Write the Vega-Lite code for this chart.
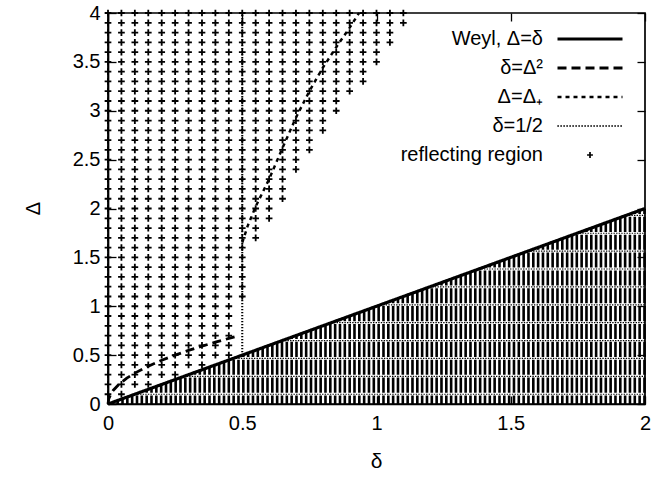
{
  "$schema": "https://vega.github.io/schema/vega-lite/v6.json",
  "width": 537,
  "height": 391,
  "autosize": {"type": "none"},
  "padding": {"left": 108, "top": 13, "right": 13, "bottom": 74},
  "background": "white",
  "config": {
    "view": {"stroke": "black", "strokeWidth": 1.7},
    "font": "Liberation Sans",
    "axis": {
      "labelFont": "Liberation Sans",
      "labelFontSize": 20,
      "labelColor": "black",
      "titleFont": "Liberation Sans",
      "titleColor": "black",
      "titleFontWeight": "normal",
      "tickColor": "black",
      "domainColor": "black",
      "grid": false,
      "labelFlush": false,
      "labelOverlap": false
    }
  },
  "datasets": {
    "below": [
      {"d":0.018,"b":0},{"d":0.036,"b":0},{"d":0.054,"b":0},{"d":0.072,"b":0},{"d":0.09,"b":0},{"d":0.108,"b":0},{"d":0.126,"b":0},{"d":0.144,"b":0},{"d":0.162,"b":0},{"d":0.18,"b":0},
      {"d":0.198,"b":0},{"d":0.216,"b":0},{"d":0.234,"b":0},{"d":0.252,"b":0},{"d":0.27,"b":0},{"d":0.288,"b":0},{"d":0.306,"b":0},{"d":0.324,"b":0},{"d":0.342,"b":0},{"d":0.36,"b":0},
      {"d":0.378,"b":0},{"d":0.396,"b":0},{"d":0.414,"b":0},{"d":0.432,"b":0},{"d":0.45,"b":0},{"d":0.468,"b":0},{"d":0.486,"b":0},{"d":0.504,"b":0},{"d":0.522,"b":0},{"d":0.54,"b":0},
      {"d":0.558,"b":0},{"d":0.576,"b":0},{"d":0.594,"b":0},{"d":0.612,"b":0},{"d":0.63,"b":0},{"d":0.648,"b":0},{"d":0.666,"b":0},{"d":0.684,"b":0},{"d":0.702,"b":0},{"d":0.72,"b":0},
      {"d":0.738,"b":0},{"d":0.756,"b":0},{"d":0.774,"b":0},{"d":0.792,"b":0},{"d":0.81,"b":0},{"d":0.828,"b":0},{"d":0.846,"b":0},{"d":0.864,"b":0},{"d":0.882,"b":0},{"d":0.9,"b":0},
      {"d":0.918,"b":0},{"d":0.936,"b":0},{"d":0.954,"b":0},{"d":0.972,"b":0},{"d":0.99,"b":0},{"d":1.008,"b":0},{"d":1.026,"b":0},{"d":1.044,"b":0},{"d":1.062,"b":0},{"d":1.08,"b":0},
      {"d":1.098,"b":0},{"d":1.116,"b":0},{"d":1.134,"b":0},{"d":1.152,"b":0},{"d":1.17,"b":0},{"d":1.188,"b":0},{"d":1.206,"b":0},{"d":1.224,"b":0},{"d":1.242,"b":0},{"d":1.26,"b":0},
      {"d":1.278,"b":0},{"d":1.296,"b":0},{"d":1.314,"b":0},{"d":1.332,"b":0},{"d":1.35,"b":0},{"d":1.368,"b":0},{"d":1.386,"b":0},{"d":1.404,"b":0},{"d":1.422,"b":0},{"d":1.44,"b":0},
      {"d":1.458,"b":0},{"d":1.476,"b":0},{"d":1.494,"b":0},{"d":1.512,"b":0},{"d":1.53,"b":0},{"d":1.548,"b":0},{"d":1.566,"b":0},{"d":1.584,"b":0},{"d":1.602,"b":0},{"d":1.62,"b":0},
      {"d":1.638,"b":0},{"d":1.656,"b":0},{"d":1.674,"b":0},{"d":1.692,"b":0},{"d":1.71,"b":0},{"d":1.728,"b":0},{"d":1.746,"b":0},{"d":1.764,"b":0},{"d":1.782,"b":0},{"d":1.8,"b":0},
      {"d":1.818,"b":0},{"d":1.836,"b":0},{"d":1.854,"b":0},{"d":1.872,"b":0},{"d":1.89,"b":0},{"d":1.908,"b":0},{"d":1.926,"b":0},{"d":1.944,"b":0},{"d":1.962,"b":0},{"d":1.98,"b":0},
      {"d":1.998,"b":0}
    ],
    "levels": [
      {"D":0.1,"e":2},{"D":0.283,"e":2},{"D":0.466,"e":2},{"D":0.649,"e":2},{"D":0.832,"e":2},{"D":1.015,"e":2},{"D":1.198,"e":2},{"D":1.381,"e":2},{"D":1.564,"e":2},{"D":1.747,"e":2},{"D":1.93,"e":2}
    ],
    "reflecting": [
      {"d":0,"D":0.1},{"d":0,"D":0.2},{"d":0,"D":0.3},{"d":0,"D":0.4},{"d":0,"D":0.5},{"d":0,"D":0.6},{"d":0,"D":0.7},{"d":0,"D":0.8},{"d":0,"D":0.9},{"d":0,"D":1},
      {"d":0,"D":1.1},{"d":0,"D":1.2},{"d":0,"D":1.3},{"d":0,"D":1.4},{"d":0,"D":1.5},{"d":0,"D":1.6},{"d":0,"D":1.7},{"d":0,"D":1.8},{"d":0,"D":1.9},{"d":0,"D":2},
      {"d":0,"D":2.1},{"d":0,"D":2.2},{"d":0,"D":2.3},{"d":0,"D":2.4},{"d":0,"D":2.5},{"d":0,"D":2.6},{"d":0,"D":2.7},{"d":0,"D":2.8},{"d":0,"D":2.9},{"d":0,"D":3},
      {"d":0,"D":3.1},{"d":0,"D":3.2},{"d":0,"D":3.3},{"d":0,"D":3.4},{"d":0,"D":3.5},{"d":0,"D":3.6},{"d":0,"D":3.7},{"d":0,"D":3.8},{"d":0,"D":3.9},{"d":0,"D":4},
      {"d":0.05,"D":0.1},{"d":0.05,"D":0.2},{"d":0.05,"D":0.3},{"d":0.05,"D":0.4},{"d":0.05,"D":0.5},{"d":0.05,"D":0.6},{"d":0.05,"D":0.7},{"d":0.05,"D":0.8},{"d":0.05,"D":0.9},{"d":0.05,"D":1},
      {"d":0.05,"D":1.1},{"d":0.05,"D":1.2},{"d":0.05,"D":1.3},{"d":0.05,"D":1.4},{"d":0.05,"D":1.5},{"d":0.05,"D":1.6},{"d":0.05,"D":1.7},{"d":0.05,"D":1.8},{"d":0.05,"D":1.9},{"d":0.05,"D":2},
      {"d":0.05,"D":2.1},{"d":0.05,"D":2.2},{"d":0.05,"D":2.3},{"d":0.05,"D":2.4},{"d":0.05,"D":2.5},{"d":0.05,"D":2.6},{"d":0.05,"D":2.7},{"d":0.05,"D":2.8},{"d":0.05,"D":2.9},{"d":0.05,"D":3},
      {"d":0.05,"D":3.1},{"d":0.05,"D":3.2},{"d":0.05,"D":3.3},{"d":0.05,"D":3.4},{"d":0.05,"D":3.5},{"d":0.05,"D":3.6},{"d":0.05,"D":3.7},{"d":0.05,"D":3.8},{"d":0.05,"D":3.9},{"d":0.05,"D":4},
      {"d":0.1,"D":0.2},{"d":0.1,"D":0.3},{"d":0.1,"D":0.4},{"d":0.1,"D":0.5},{"d":0.1,"D":0.6},{"d":0.1,"D":0.7},{"d":0.1,"D":0.8},{"d":0.1,"D":0.9},{"d":0.1,"D":1},
      {"d":0.1,"D":1.1},{"d":0.1,"D":1.2},{"d":0.1,"D":1.3},{"d":0.1,"D":1.4},{"d":0.1,"D":1.5},{"d":0.1,"D":1.6},{"d":0.1,"D":1.7},{"d":0.1,"D":1.8},{"d":0.1,"D":1.9},{"d":0.1,"D":2},
      {"d":0.1,"D":2.1},{"d":0.1,"D":2.2},{"d":0.1,"D":2.3},{"d":0.1,"D":2.4},{"d":0.1,"D":2.5},{"d":0.1,"D":2.6},{"d":0.1,"D":2.7},{"d":0.1,"D":2.8},{"d":0.1,"D":2.9},{"d":0.1,"D":3},
      {"d":0.1,"D":3.1},{"d":0.1,"D":3.2},{"d":0.1,"D":3.3},{"d":0.1,"D":3.4},{"d":0.1,"D":3.5},{"d":0.1,"D":3.6},{"d":0.1,"D":3.7},{"d":0.1,"D":3.8},{"d":0.1,"D":3.9},{"d":0.1,"D":4},
      {"d":0.15,"D":0.2},{"d":0.15,"D":0.3},{"d":0.15,"D":0.4},{"d":0.15,"D":0.5},{"d":0.15,"D":0.6},{"d":0.15,"D":0.7},{"d":0.15,"D":0.8},{"d":0.15,"D":0.9},{"d":0.15,"D":1},
      {"d":0.15,"D":1.1},{"d":0.15,"D":1.2},{"d":0.15,"D":1.3},{"d":0.15,"D":1.4},{"d":0.15,"D":1.5},{"d":0.15,"D":1.6},{"d":0.15,"D":1.7},{"d":0.15,"D":1.8},{"d":0.15,"D":1.9},{"d":0.15,"D":2},
      {"d":0.15,"D":2.1},{"d":0.15,"D":2.2},{"d":0.15,"D":2.3},{"d":0.15,"D":2.4},{"d":0.15,"D":2.5},{"d":0.15,"D":2.6},{"d":0.15,"D":2.7},{"d":0.15,"D":2.8},{"d":0.15,"D":2.9},{"d":0.15,"D":3},
      {"d":0.15,"D":3.1},{"d":0.15,"D":3.2},{"d":0.15,"D":3.3},{"d":0.15,"D":3.4},{"d":0.15,"D":3.5},{"d":0.15,"D":3.6},{"d":0.15,"D":3.7},{"d":0.15,"D":3.8},{"d":0.15,"D":3.9},{"d":0.15,"D":4},
      {"d":0.2,"D":0.3},{"d":0.2,"D":0.4},{"d":0.2,"D":0.5},{"d":0.2,"D":0.6},{"d":0.2,"D":0.7},{"d":0.2,"D":0.8},{"d":0.2,"D":0.9},{"d":0.2,"D":1},
      {"d":0.2,"D":1.1},{"d":0.2,"D":1.2},{"d":0.2,"D":1.3},{"d":0.2,"D":1.4},{"d":0.2,"D":1.5},{"d":0.2,"D":1.6},{"d":0.2,"D":1.7},{"d":0.2,"D":1.8},{"d":0.2,"D":1.9},{"d":0.2,"D":2},
      {"d":0.2,"D":2.1},{"d":0.2,"D":2.2},{"d":0.2,"D":2.3},{"d":0.2,"D":2.4},{"d":0.2,"D":2.5},{"d":0.2,"D":2.6},{"d":0.2,"D":2.7},{"d":0.2,"D":2.8},{"d":0.2,"D":2.9},{"d":0.2,"D":3},
      {"d":0.2,"D":3.1},{"d":0.2,"D":3.2},{"d":0.2,"D":3.3},{"d":0.2,"D":3.4},{"d":0.2,"D":3.5},{"d":0.2,"D":3.6},{"d":0.2,"D":3.7},{"d":0.2,"D":3.8},{"d":0.2,"D":3.9},{"d":0.2,"D":4},
      {"d":0.25,"D":0.3},{"d":0.25,"D":0.4},{"d":0.25,"D":0.5},{"d":0.25,"D":0.6},{"d":0.25,"D":0.7},{"d":0.25,"D":0.8},{"d":0.25,"D":0.9},{"d":0.25,"D":1},
      {"d":0.25,"D":1.1},{"d":0.25,"D":1.2},{"d":0.25,"D":1.3},{"d":0.25,"D":1.4},{"d":0.25,"D":1.5},{"d":0.25,"D":1.6},{"d":0.25,"D":1.7},{"d":0.25,"D":1.8},{"d":0.25,"D":1.9},{"d":0.25,"D":2},
      {"d":0.25,"D":2.1},{"d":0.25,"D":2.2},{"d":0.25,"D":2.3},{"d":0.25,"D":2.4},{"d":0.25,"D":2.5},{"d":0.25,"D":2.6},{"d":0.25,"D":2.7},{"d":0.25,"D":2.8},{"d":0.25,"D":2.9},{"d":0.25,"D":3},
      {"d":0.25,"D":3.1},{"d":0.25,"D":3.2},{"d":0.25,"D":3.3},{"d":0.25,"D":3.4},{"d":0.25,"D":3.5},{"d":0.25,"D":3.6},{"d":0.25,"D":3.7},{"d":0.25,"D":3.8},{"d":0.25,"D":3.9},{"d":0.25,"D":4},
      {"d":0.3,"D":0.4},{"d":0.3,"D":0.5},{"d":0.3,"D":0.6},{"d":0.3,"D":0.7},{"d":0.3,"D":0.8},{"d":0.3,"D":0.9},{"d":0.3,"D":1},
      {"d":0.3,"D":1.1},{"d":0.3,"D":1.2},{"d":0.3,"D":1.3},{"d":0.3,"D":1.4},{"d":0.3,"D":1.5},{"d":0.3,"D":1.6},{"d":0.3,"D":1.7},{"d":0.3,"D":1.8},{"d":0.3,"D":1.9},{"d":0.3,"D":2},
      {"d":0.3,"D":2.1},{"d":0.3,"D":2.2},{"d":0.3,"D":2.3},{"d":0.3,"D":2.4},{"d":0.3,"D":2.5},{"d":0.3,"D":2.6},{"d":0.3,"D":2.7},{"d":0.3,"D":2.8},{"d":0.3,"D":2.9},{"d":0.3,"D":3},
      {"d":0.3,"D":3.1},{"d":0.3,"D":3.2},{"d":0.3,"D":3.3},{"d":0.3,"D":3.4},{"d":0.3,"D":3.5},{"d":0.3,"D":3.6},{"d":0.3,"D":3.7},{"d":0.3,"D":3.8},{"d":0.3,"D":3.9},{"d":0.3,"D":4},
      {"d":0.35,"D":0.4},{"d":0.35,"D":0.5},{"d":0.35,"D":0.6},{"d":0.35,"D":0.7},{"d":0.35,"D":0.8},{"d":0.35,"D":0.9},{"d":0.35,"D":1},
      {"d":0.35,"D":1.1},{"d":0.35,"D":1.2},{"d":0.35,"D":1.3},{"d":0.35,"D":1.4},{"d":0.35,"D":1.5},{"d":0.35,"D":1.6},{"d":0.35,"D":1.7},{"d":0.35,"D":1.8},{"d":0.35,"D":1.9},{"d":0.35,"D":2},
      {"d":0.35,"D":2.1},{"d":0.35,"D":2.2},{"d":0.35,"D":2.3},{"d":0.35,"D":2.4},{"d":0.35,"D":2.5},{"d":0.35,"D":2.6},{"d":0.35,"D":2.7},{"d":0.35,"D":2.8},{"d":0.35,"D":2.9},{"d":0.35,"D":3},
      {"d":0.35,"D":3.1},{"d":0.35,"D":3.2},{"d":0.35,"D":3.3},{"d":0.35,"D":3.4},{"d":0.35,"D":3.5},{"d":0.35,"D":3.6},{"d":0.35,"D":3.7},{"d":0.35,"D":3.8},{"d":0.35,"D":3.9},{"d":0.35,"D":4},
      {"d":0.4,"D":0.5},{"d":0.4,"D":0.6},{"d":0.4,"D":0.7},{"d":0.4,"D":0.8},{"d":0.4,"D":0.9},{"d":0.4,"D":1},
      {"d":0.4,"D":1.1},{"d":0.4,"D":1.2},{"d":0.4,"D":1.3},{"d":0.4,"D":1.4},{"d":0.4,"D":1.5},{"d":0.4,"D":1.6},{"d":0.4,"D":1.7},{"d":0.4,"D":1.8},{"d":0.4,"D":1.9},{"d":0.4,"D":2},
      {"d":0.4,"D":2.1},{"d":0.4,"D":2.2},{"d":0.4,"D":2.3},{"d":0.4,"D":2.4},{"d":0.4,"D":2.5},{"d":0.4,"D":2.6},{"d":0.4,"D":2.7},{"d":0.4,"D":2.8},{"d":0.4,"D":2.9},{"d":0.4,"D":3},
      {"d":0.4,"D":3.1},{"d":0.4,"D":3.2},{"d":0.4,"D":3.3},{"d":0.4,"D":3.4},{"d":0.4,"D":3.5},{"d":0.4,"D":3.6},{"d":0.4,"D":3.7},{"d":0.4,"D":3.8},{"d":0.4,"D":3.9},{"d":0.4,"D":4},
      {"d":0.45,"D":0.5},{"d":0.45,"D":0.6},{"d":0.45,"D":0.7},{"d":0.45,"D":0.8},{"d":0.45,"D":0.9},{"d":0.45,"D":1},
      {"d":0.45,"D":1.1},{"d":0.45,"D":1.2},{"d":0.45,"D":1.3},{"d":0.45,"D":1.4},{"d":0.45,"D":1.5},{"d":0.45,"D":1.6},{"d":0.45,"D":1.7},{"d":0.45,"D":1.8},{"d":0.45,"D":1.9},{"d":0.45,"D":2},
      {"d":0.45,"D":2.1},{"d":0.45,"D":2.2},{"d":0.45,"D":2.3},{"d":0.45,"D":2.4},{"d":0.45,"D":2.5},{"d":0.45,"D":2.6},{"d":0.45,"D":2.7},{"d":0.45,"D":2.8},{"d":0.45,"D":2.9},{"d":0.45,"D":3},
      {"d":0.45,"D":3.1},{"d":0.45,"D":3.2},{"d":0.45,"D":3.3},{"d":0.45,"D":3.4},{"d":0.45,"D":3.5},{"d":0.45,"D":3.6},{"d":0.45,"D":3.7},{"d":0.45,"D":3.8},{"d":0.45,"D":3.9},{"d":0.45,"D":4},
      {"d":0.5,"D":1.1},{"d":0.5,"D":1.2},{"d":0.5,"D":1.3},{"d":0.5,"D":1.4},{"d":0.5,"D":1.5},{"d":0.5,"D":1.6},{"d":0.5,"D":1.7},{"d":0.5,"D":1.8},{"d":0.5,"D":1.9},{"d":0.5,"D":2},
      {"d":0.5,"D":2.1},{"d":0.5,"D":2.2},{"d":0.5,"D":2.3},{"d":0.5,"D":2.4},{"d":0.5,"D":2.5},{"d":0.5,"D":2.6},{"d":0.5,"D":2.7},{"d":0.5,"D":2.8},{"d":0.5,"D":2.9},{"d":0.5,"D":3},
      {"d":0.5,"D":3.1},{"d":0.5,"D":3.2},{"d":0.5,"D":3.3},{"d":0.5,"D":3.4},{"d":0.5,"D":3.5},{"d":0.5,"D":3.6},{"d":0.5,"D":3.7},{"d":0.5,"D":3.8},{"d":0.5,"D":3.9},{"d":0.5,"D":4},
      {"d":0.55,"D":1.7},{"d":0.55,"D":1.8},{"d":0.55,"D":1.9},{"d":0.55,"D":2},
      {"d":0.55,"D":2.1},{"d":0.55,"D":2.2},{"d":0.55,"D":2.3},{"d":0.55,"D":2.4},{"d":0.55,"D":2.5},{"d":0.55,"D":2.6},{"d":0.55,"D":2.7},{"d":0.55,"D":2.8},{"d":0.55,"D":2.9},{"d":0.55,"D":3},
      {"d":0.55,"D":3.1},{"d":0.55,"D":3.2},{"d":0.55,"D":3.3},{"d":0.55,"D":3.4},{"d":0.55,"D":3.5},{"d":0.55,"D":3.6},{"d":0.55,"D":3.7},{"d":0.55,"D":3.8},{"d":0.55,"D":3.9},{"d":0.55,"D":4},
      {"d":0.6,"D":1.9},{"d":0.6,"D":2},
      {"d":0.6,"D":2.1},{"d":0.6,"D":2.2},{"d":0.6,"D":2.3},{"d":0.6,"D":2.4},{"d":0.6,"D":2.5},{"d":0.6,"D":2.6},{"d":0.6,"D":2.7},{"d":0.6,"D":2.8},{"d":0.6,"D":2.9},{"d":0.6,"D":3},
      {"d":0.6,"D":3.1},{"d":0.6,"D":3.2},{"d":0.6,"D":3.3},{"d":0.6,"D":3.4},{"d":0.6,"D":3.5},{"d":0.6,"D":3.6},{"d":0.6,"D":3.7},{"d":0.6,"D":3.8},{"d":0.6,"D":3.9},{"d":0.6,"D":4},
      {"d":0.65,"D":2.1},{"d":0.65,"D":2.2},{"d":0.65,"D":2.3},{"d":0.65,"D":2.4},{"d":0.65,"D":2.5},{"d":0.65,"D":2.6},{"d":0.65,"D":2.7},{"d":0.65,"D":2.8},{"d":0.65,"D":2.9},{"d":0.65,"D":3},
      {"d":0.65,"D":3.1},{"d":0.65,"D":3.2},{"d":0.65,"D":3.3},{"d":0.65,"D":3.4},{"d":0.65,"D":3.5},{"d":0.65,"D":3.6},{"d":0.65,"D":3.7},{"d":0.65,"D":3.8},{"d":0.65,"D":3.9},{"d":0.65,"D":4},
      {"d":0.7,"D":2.4},{"d":0.7,"D":2.5},{"d":0.7,"D":2.6},{"d":0.7,"D":2.7},{"d":0.7,"D":2.8},{"d":0.7,"D":2.9},{"d":0.7,"D":3},
      {"d":0.7,"D":3.1},{"d":0.7,"D":3.2},{"d":0.7,"D":3.3},{"d":0.7,"D":3.4},{"d":0.7,"D":3.5},{"d":0.7,"D":3.6},{"d":0.7,"D":3.7},{"d":0.7,"D":3.8},{"d":0.7,"D":3.9},{"d":0.7,"D":4},
      {"d":0.75,"D":2.6},{"d":0.75,"D":2.7},{"d":0.75,"D":2.8},{"d":0.75,"D":2.9},{"d":0.75,"D":3},
      {"d":0.75,"D":3.1},{"d":0.75,"D":3.2},{"d":0.75,"D":3.3},{"d":0.75,"D":3.4},{"d":0.75,"D":3.5},{"d":0.75,"D":3.6},{"d":0.75,"D":3.7},{"d":0.75,"D":3.8},{"d":0.75,"D":3.9},{"d":0.75,"D":4},
      {"d":0.8,"D":2.8},{"d":0.8,"D":2.9},{"d":0.8,"D":3},
      {"d":0.8,"D":3.1},{"d":0.8,"D":3.2},{"d":0.8,"D":3.3},{"d":0.8,"D":3.4},{"d":0.8,"D":3.5},{"d":0.8,"D":3.6},{"d":0.8,"D":3.7},{"d":0.8,"D":3.8},{"d":0.8,"D":3.9},{"d":0.8,"D":4},
      {"d":0.85,"D":3},
      {"d":0.85,"D":3.1},{"d":0.85,"D":3.2},{"d":0.85,"D":3.3},{"d":0.85,"D":3.4},{"d":0.85,"D":3.5},{"d":0.85,"D":3.6},{"d":0.85,"D":3.7},{"d":0.85,"D":3.8},{"d":0.85,"D":3.9},{"d":0.85,"D":4},
      {"d":0.9,"D":3.2},{"d":0.9,"D":3.3},{"d":0.9,"D":3.4},{"d":0.9,"D":3.5},{"d":0.9,"D":3.6},{"d":0.9,"D":3.7},{"d":0.9,"D":3.8},{"d":0.9,"D":3.9},{"d":0.9,"D":4},
      {"d":0.95,"D":3.3},{"d":0.95,"D":3.4},{"d":0.95,"D":3.5},{"d":0.95,"D":3.6},{"d":0.95,"D":3.7},{"d":0.95,"D":3.8},{"d":0.95,"D":3.9},{"d":0.95,"D":4},
      {"d":1,"D":3.5},{"d":1,"D":3.6},{"d":1,"D":3.7},{"d":1,"D":3.8},{"d":1,"D":3.9},{"d":1,"D":4},
      {"d":1.05,"D":3.7},{"d":1.05,"D":3.8},{"d":1.05,"D":3.9},{"d":1.05,"D":4},
      {"d":1.1,"D":3.9},{"d":1.1,"D":4}
    ],
    "curves": [
      {"s":"Weyl, Δ=δ","d":0,"D":0},{"s":"Weyl, Δ=δ","d":2,"D":2},
      {"s":"δ=Δ²","d":0,"D":0},{"s":"δ=Δ²","d":0.003,"D":0.055},{"s":"δ=Δ²","d":0.01,"D":0.1},{"s":"δ=Δ²","d":0.02,"D":0.141},
      {"s":"δ=Δ²","d":0.04,"D":0.2},{"s":"δ=Δ²","d":0.07,"D":0.265},{"s":"δ=Δ²","d":0.1,"D":0.316},{"s":"δ=Δ²","d":0.15,"D":0.387},
      {"s":"δ=Δ²","d":0.2,"D":0.447},{"s":"δ=Δ²","d":0.25,"D":0.5},{"s":"δ=Δ²","d":0.3,"D":0.548},{"s":"δ=Δ²","d":0.35,"D":0.592},
      {"s":"δ=Δ²","d":0.4,"D":0.632},{"s":"δ=Δ²","d":0.45,"D":0.671},{"s":"δ=Δ²","d":0.48,"D":0.693},
      {"s":"Δ=Δ₊","d":0.5,"D":1.65},{"s":"Δ=Δ₊","d":0.52,"D":1.82},{"s":"Δ=Δ₊","d":0.55,"D":2.02},{"s":"Δ=Δ₊","d":0.6,"D":2.3},
      {"s":"Δ=Δ₊","d":0.65,"D":2.62},{"s":"Δ=Δ₊","d":0.7,"D":2.93},{"s":"Δ=Δ₊","d":0.75,"D":3.2},{"s":"Δ=Δ₊","d":0.8,"D":3.44},
      {"s":"Δ=Δ₊","d":0.85,"D":3.65},{"s":"Δ=Δ₊","d":0.9,"D":3.85},{"s":"Δ=Δ₊","d":0.935,"D":4},
      {"s":"δ=1/2","d":0.5,"D":0.5},{"s":"δ=1/2","d":0.5,"D":4}
    ]
  },
  "layer": [
    {
      "data": {"name": "below"},
      "mark": {"type": "rule", "color": "black", "strokeWidth": 2.6, "strokeDash": [15.1, 2.76], "strokeDashOffset": 6.5},
      "encoding": {
        "x": {
          "field": "d", "type": "quantitative",
          "scale": {"domain": [0, 2], "nice": false, "zero": false},
          "axis": {
            "orient": "bottom", "values": [0, 0.5, 1, 1.5, 2], "format": "~g",
            "tickSize": -8, "tickWidth": 1.3, "domainWidth": 1.7, "labelPadding": 17,
            "title": "δ", "titleFontSize": 21, "titleX": 268, "titleY": 57, "titleBaseline": "middle", "titleAlign": "center"
          }
        },
        "y": {
          "field": "b", "type": "quantitative",
          "scale": {"domain": [0, 4], "nice": false, "zero": false},
          "axis": {
            "orient": "left", "values": [0, 0.5, 1, 1.5, 2, 2.5, 3, 3.5, 4], "format": "~g",
            "tickSize": -8, "tickWidth": 1.3, "domainWidth": 1.7, "labelPadding": 16,
            "title": "Δ", "titleFontSize": 20, "titleAngle": -90, "titleX": -75, "titleY": 195,
            "titleAlign": "center", "titleBaseline": "middle"
          }
        },
        "y2": {"field": "d"}
      }
    },
    {
      "data": {"name": "levels"},
      "mark": {"type": "rule", "color": "black", "strokeWidth": 1.2, "strokeDash": [1.4, 1.2]},
      "encoding": {
        "x": {"field": "D", "type": "quantitative", "axis": null},
        "x2": {"field": "e"},
        "y": {"field": "D", "type": "quantitative", "axis": null}
      }
    },
    {
      "data": {"name": "reflecting"},
      "mark": {"type": "point", "shape": "M-1,0H1M0,-1V1", "size": 45, "filled": false, "stroke": "black", "strokeWidth": 1.8, "opacity": 1},
      "encoding": {
        "x": {"field": "d", "type": "quantitative", "axis": null},
        "y": {"field": "D", "type": "quantitative", "axis": null}
      }
    },
    {
      "data": {"name": "curves"},
      "mark": {"type": "line", "color": "black", "strokeCap": "butt"},
      "encoding": {
        "x": {
          "field": "d", "type": "quantitative",
          "axis": {"orient": "top", "values": [0, 0.5, 1, 1.5, 2], "labels": false, "domain": false, "tickSize": -8, "tickWidth": 1.3, "title": null}
        },
        "y": {
          "field": "D", "type": "quantitative",
          "axis": {"orient": "right", "values": [0, 0.5, 1, 1.5, 2, 2.5, 3, 3.5, 4], "labels": false, "domain": false, "tickSize": -8, "tickWidth": 1.3, "title": null}
        },
        "strokeWidth": {
          "field": "s", "type": "nominal", "legend": null,
          "scale": {"domain": ["Weyl, Δ=δ", "δ=Δ²", "Δ=Δ₊", "δ=1/2", "reflecting region"], "range": [3.2, 1.7, 1.7, 1.5, 1.5]}
        },
        "strokeDash": {
          "field": "s", "type": "nominal",
          "scale": {
            "domain": ["Weyl, Δ=δ", "δ=Δ²", "Δ=Δ₊", "δ=1/2", "reflecting region"],
            "range": [[1, 0], [9, 5], [4, 4], [1.2, 1.8], [1, 0]]
          },
          "legend": {
            "orient": "none", "legendX": 472, "legendY": 16, "title": null, "padding": 0,
            "labelFont": "Liberation Sans", "labelFontSize": 20, "labelColor": "black",
            "labelAlign": "right", "labelOffset": -57, "symbolSize": 169,
            "symbolStrokeColor": "black", "symbolFillColor": "transparent", "rowPadding": 9,
            "encode": {
              "symbols": {
                "update": {
                  "shape": {"signal": "datum.value === 'reflecting region' ? 'M-0.45,0H0.45M0,-0.45V0.45' : 'M-5,0H5'"},
                  "strokeWidth": {"signal": "datum.value === 'Weyl, Δ=δ' ? 3 : 1.5"}
                }
              }
            }
          }
        }
      }
    }
  ],
  "resolve": {"axis": {"x": "independent", "y": "independent"}}
}
